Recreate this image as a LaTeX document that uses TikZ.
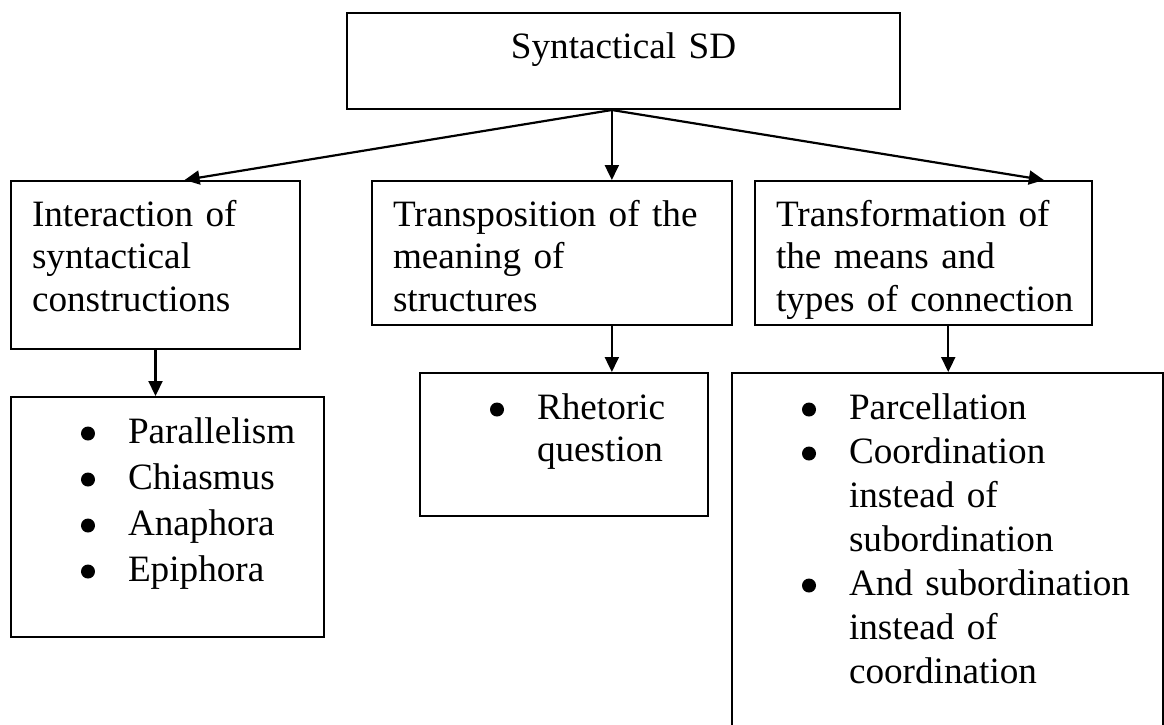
\documentclass[tikz,border=0pt]{standalone}
\usepackage{fontspec}
\setmainfont{Liberation Serif}
\usepackage{tikz}
\usetikzlibrary{calc,arrows.meta}
\newcommand*\itm{\leavevmode\llap{\raisebox{2.5pt}{\tikz\fill (0,0) circle (7pt);}\hspace{33pt}}}
\begin{document}
\begin{tikzpicture}[x=1pt,y=-1pt,
  box/.style={draw,line width=2pt,anchor=north west,inner ysep=0pt,font=\fontsize{37.2}{42.5}\selectfont},
  head/.style={box,inner xsep=21pt,text height=45pt},
  lst/.style={box,inner xsep=0pt,text height=46pt,font=\fontsize{37.2}{44}\selectfont},
  arr/.style={line width=2.2pt,-{Triangle[length=15pt,width=14pt]}}]
\useasboundingbox (0,0) rectangle (1164,724);
\node[box,inner xsep=0pt,align=center,text width=553pt,text height=45pt,text depth=51pt] (top) at (346,12) {Syntactical SD};
\node[head,text width=247pt,text depth=123pt] (inter) at (10,180) {Interaction of\\syntactical\\constructions\par};
\node[head,text width=318pt,text depth=99pt] (transp) at (371,180) {Transposition of the\\meaning of\\structures\par};
\node[head,text width=295pt,text depth=99pt] (transf) at (754,180) {Transformation of\\the means and\\\mbox{types of connection}\par};
\node[lst,text width=313pt,text depth=194pt,font=\fontsize{37.2}{46}\selectfont] (list1) at (10,396) {\leftskip=117pt \itm Parallelism\\\itm Chiasmus\\\itm Anaphora\\\itm Epiphora\par};
\node[lst,text width=288pt,text depth=97pt,font=\fontsize{37.2}{42}\selectfont] (rhet) at (419,372) {\leftskip=117pt \itm Rhetoric\\question\par};
\node[lst,text width=431pt,text depth=368pt] (list3) at (731,372) {\leftskip=117pt \itm Parcellation\\\itm Coordination\\instead of\\subordination\\\itm And subordination\\instead of\\coordination\par};
\coordinate (fork) at ($(top.south west)!.479!(top.south east)$);
\draw[arr] (fork) -- ($(inter.north west)!.6!(inter.north east)$);
\draw[arr] (fork) -- (fork |- transp.north);
\draw[arr] (fork) -- ($(transf.north west)!.855!(transf.north east)$);
\draw[arr] (inter.south) -- (inter.south |- list1.north);
\draw[arr] (fork |- transp.south) -- (fork |- rhet.north);
\draw[arr] ($(transf.south west)!.573!(transf.south east)$) coordinate (drop) -- (drop |- list3.north);
\end{tikzpicture}
\end{document}
